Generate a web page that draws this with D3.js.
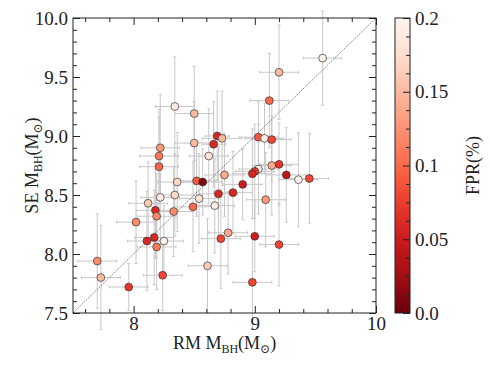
<!DOCTYPE html>
<html>
<head>
<meta charset="utf-8">
<script src="https://cdn.jsdelivr.net/npm/d3@7"></script>
<style>
  body { margin: 0; background: #fff; }
  text { font-family: "Liberation Serif", "DejaVu Serif", serif; fill: #222; }
</style>
</head>
<body>
<svg id="chart"></svg>
<script>
var width = 490, height = 367;

// RM mass (x), SE mass (y), errors and FPR colour value per source
var rmMass = [8.34, 8.50, 8.69, 8.73, 8.66, 8.50, 8.62, 8.22, 8.21, 8.21,
              9.56, 9.20, 9.12, 9.03, 9.08, 9.14, 9.14, 9.20, 9.03, 9.00,
              8.98, 8.52, 8.57, 8.75, 8.36, 8.22, 8.34, 8.54, 8.70, 8.67,
              8.49, 8.12, 8.18, 8.19, 8.33, 8.02, 8.11, 8.17, 8.25, 8.19,
              7.70, 7.73, 7.96, 8.24, 8.61, 8.72, 8.78, 9.26, 9.36, 9.45,
              8.90, 8.82, 9.09, 9.00, 9.20, 8.98];
var seMass = [9.25, 9.19, 9.00, 8.98, 8.93, 8.94, 8.83, 8.90, 8.83, 8.74,
              9.66, 9.54, 9.30, 8.99, 8.98, 8.97, 8.75, 8.76, 8.72, 8.70,
              8.68, 8.62, 8.61, 8.67, 8.61, 8.48, 8.50, 8.47, 8.51, 8.41,
              8.40, 8.43, 8.37, 8.32, 8.36, 8.27, 8.11, 8.14, 8.11, 8.06,
              7.94, 7.80, 7.72, 7.82, 7.90, 8.13, 8.18, 8.67, 8.63, 8.64,
              8.59, 8.52, 8.46, 8.15, 8.08, 7.76];
var rmErr = [0.16, 0.16, 0.10, 0.16, 0.10, 0.16, 0.16, 0.16, 0.16, 0.16,
             0.16, 0.16, 0.16, 0.16, 0.16, 0.16, 0.16, 0.16, 0.16, 0.16,
             0.16, 0.16, 0.16, 0.16, 0.16, 0.16, 0.16, 0.16, 0.16, 0.16,
             0.16, 0.16, 0.16, 0.16, 0.16, 0.16, 0.16, 0.16, 0.16, 0.16,
             0.16, 0.16, 0.16, 0.16, 0.16, 0.16, 0.16, 0.16, 0.16, 0.16,
             0.16, 0.16, 0.16, 0.16, 0.16, 0.16];
var seErr = [0.42, 0.40, 0.38, 0.40, 0.36, 0.35, 0.40, 0.45, 0.40, 0.42,
             0.40, 0.40, 0.40, 0.30, 0.30, 0.35, 0.42, 0.35, 0.38, 0.40,
             0.38, 0.30, 0.28, 0.35, 0.42, 0.40, 0.35, 0.38, 0.40, 0.40,
             0.38, 0.35, 0.40, 0.36, 0.38, 0.35, 0.42, 0.40, 0.30, 0.36,
             0.40, 0.44, 0.20, 0.30, 0.40, 0.42, 0.35, 0.40, 0.40, 0.38,
             0.30, 0.35, 0.40, 0.30, 0.35, 0.40];
var fpr = [0.19, 0.15, 0.06, 0.15, 0.06, 0.15, 0.18, 0.13, 0.11, 0.10,
           0.20, 0.15, 0.10, 0.09, 0.19, 0.08, 0.14, 0.07, 0.19, 0.07,
           0.06, 0.09, 0.01, 0.14, 0.17, 0.19, 0.17, 0.18, 0.06, 0.19,
           0.10, 0.16, 0.06, 0.12, 0.12, 0.12, 0.06, 0.06, 0.19, 0.11,
           0.12, 0.15, 0.07, 0.08, 0.16, 0.08, 0.14, 0.04, 0.20, 0.08,
           0.05, 0.06, 0.13, 0.05, 0.08, 0.08];

var xTicks = [8, 9, 10], xTickLabels = ["8", "9", "10"];
var yTicks = [7.5, 8.0, 8.5, 9.0, 9.5, 10.0];
var yTickLabels = ["7.5", "8.0", "8.5", "9.0", "9.5", "10.0"];
var cbTicks = [0, 0.05, 0.1, 0.15, 0.2];
var cbTickLabels = ["0.0", "0.05", "0.1", "0.15", "0.2"];

var plot = {left: 73, right: 376, top: 18, bottom: 313};
var cb = {left: 395, right: 410};

const svg = d3.select('svg#chart')
  .attr('width', width)
  .attr('height', height);

var x = d3.scaleLinear().domain([7.5, 10]).range([plot.left, plot.right]);
var y = d3.scaleLinear().domain([7.5, 10]).range([plot.bottom, plot.top]);
var cbScale = d3.scaleLinear().domain([0, 0.2]).range([plot.bottom, plot.top]);
var color = v => d3.interpolateReds(1 - v / 0.2);

var pts = rmMass.map((d, i) => ({x: d, y: seMass[i], xe: rmErr[i], ye: seErr[i], c: fpr[i]}));

// error bars
const errs = svg.append("g").attr("id", "errs")
  .style("stroke", "#c8c8c8").style("stroke-width", 1).style("fill", "none");
var cap = 1.5;
pts.forEach(p => {
  errs.append("line").attr("x1", x(p.x - p.xe)).attr("x2", x(p.x + p.xe)).attr("y1", y(p.y)).attr("y2", y(p.y));
  errs.append("line").attr("x1", x(p.x)).attr("x2", x(p.x)).attr("y1", y(p.y - p.ye)).attr("y2", y(p.y + p.ye));
  [p.x - p.xe, p.x + p.xe].forEach(v => {
    errs.append("line").attr("x1", x(v)).attr("x2", x(v)).attr("y1", y(p.y) - cap).attr("y2", y(p.y) + cap);
  });
  [p.y - p.ye, p.y + p.ye].forEach(v => {
    errs.append("line").attr("x1", x(p.x) - cap).attr("x2", x(p.x) + cap).attr("y1", y(v)).attr("y2", y(v));
  });
});

// one-to-one line
svg.append("line")
  .attr("x1", x(7.5)).attr("y1", y(7.5))
  .attr("x2", x(10)).attr("y2", y(10))
  .style("stroke", "#444").style("stroke-width", 0.6)
  .style("stroke-dasharray", "2,1");

// points
svg.append("g").attr("id", "dots")
  .selectAll("circle").data(pts)
  .enter().append("circle")
    .attr("cx", d => x(d.x))
    .attr("cy", d => y(d.y))
    .attr("r", 3.9)
    .style("fill", d => color(d.c))
    .style("stroke", "#333")
    .style("stroke-width", 0.7);

// frame
svg.append("rect")
  .attr("x", plot.left).attr("y", plot.top)
  .attr("width", plot.right - plot.left).attr("height", plot.bottom - plot.top)
  .style("fill", "none").style("stroke", "#222").style("stroke-width", 1);

var xMinor = d3.range(7.6, 10, 0.2).filter(v => Math.abs(v - 8) > 0.01 && Math.abs(v - 9) > 0.01);
var yMinor = d3.range(7.6, 10, 0.1).filter(v => Math.abs(v * 2 - Math.round(v * 2)) > 0.01);

function styleAxis(g, labels) {
  g.select(".domain").remove();
  g.attr("font-family", '"Liberation Serif", serif').attr("font-size", 19);
  g.selectAll(".tick line").style("stroke", "#222").style("stroke-width", 1);
  if (!labels) g.selectAll(".tick text").remove();
  else g.selectAll(".tick text").style("font-size", "19px").style("fill", "#222");
}

var axes = svg.append("g").attr("id", "axes");
axes.append("g").attr("transform", `translate(0,${plot.bottom})`)
  .call(d3.axisBottom(x).tickValues(xTicks).tickFormat((d, i) => xTickLabels[i]).tickSizeInner(-7).tickSizeOuter(0).tickPadding(3))
  .call(g => styleAxis(g, true));
axes.append("g").attr("transform", `translate(0,${plot.bottom})`)
  .call(d3.axisBottom(x).tickValues(xMinor).tickSize(-4)).call(g => styleAxis(g, false));
axes.append("g").attr("transform", `translate(0,${plot.top})`)
  .call(d3.axisTop(x).tickValues(xTicks).tickSize(-7)).call(g => styleAxis(g, false));
axes.append("g").attr("transform", `translate(0,${plot.top})`)
  .call(d3.axisTop(x).tickValues(xMinor).tickSize(-4)).call(g => styleAxis(g, false));
axes.append("g").attr("transform", `translate(${plot.left},0)`)
  .call(d3.axisLeft(y).tickValues(yTicks).tickFormat((d, i) => yTickLabels[i]).tickSizeInner(-7).tickSizeOuter(0).tickPadding(5))
  .call(g => styleAxis(g, true));
axes.append("g").attr("transform", `translate(${plot.left},0)`)
  .call(d3.axisLeft(y).tickValues(yMinor).tickSize(-4)).call(g => styleAxis(g, false));
axes.append("g").attr("transform", `translate(${plot.right},0)`)
  .call(d3.axisRight(y).tickValues(yTicks).tickSize(-7)).call(g => styleAxis(g, false));
axes.append("g").attr("transform", `translate(${plot.right},0)`)
  .call(d3.axisRight(y).tickValues(yMinor).tickSize(-4)).call(g => styleAxis(g, false));

// axis labels with subscripts
function massLabel(t, prefix) {
  t.append("tspan").text(prefix + " M");
  t.append("tspan").text("BH").style("font-size", "12px").attr("dy", 4);
  t.append("tspan").text("(M").attr("dy", -4);
  t.append("tspan").text("\u2299").style("font-size", "12px").attr("dy", 4);
  t.append("tspan").text(")").attr("dy", -4);
}
svg.append("text")
  .attr("x", (plot.left + plot.right) / 2).attr("y", 349)
  .attr("text-anchor", "middle").style("font-size", "18px")
  .call(t => massLabel(t, "RM"));
svg.append("text")
  .attr("transform", `translate(38,${(plot.top + plot.bottom) / 2}) rotate(-90)`)
  .attr("text-anchor", "middle").style("font-size", "18px")
  .call(t => massLabel(t, "SE"));

// colorbar
var grad = svg.append("defs").append("linearGradient")
  .attr("id", "cbgrad").attr("x1", 0).attr("y1", 1).attr("x2", 0).attr("y2", 0);
d3.range(0, 1.0001, 0.05).forEach(t => {
  grad.append("stop").attr("offset", t).attr("stop-color", color(t * 0.2));
});
svg.append("rect")
  .attr("x", cb.left).attr("y", plot.top)
  .attr("width", cb.right - cb.left).attr("height", plot.bottom - plot.top)
  .style("fill", "url(#cbgrad)").style("stroke", "#222").style("stroke-width", 1);

var cbMinor = d3.range(0.0125, 0.2, 0.0125).filter(v => Math.abs(v / 0.05 - Math.round(v / 0.05)) > 0.01);
svg.append("g").attr("transform", `translate(${cb.right},0)`)
  .call(d3.axisRight(cbScale).tickValues(cbTicks).tickFormat((d, i) => cbTickLabels[i]).tickSizeInner(-7).tickSizeOuter(0).tickPadding(5))
  .call(g => styleAxis(g, true));
svg.append("g").attr("transform", `translate(${cb.right},0)`)
  .call(d3.axisRight(cbScale).tickValues(cbMinor).tickSize(-4)).call(g => styleAxis(g, false));

svg.append("text")
  .attr("transform", `translate(479,${(plot.top + plot.bottom) / 2}) rotate(-90)`)
  .attr("text-anchor", "middle").style("font-size", "18px")
  .text("FPR(%)");
</script>
</body>
</html>
